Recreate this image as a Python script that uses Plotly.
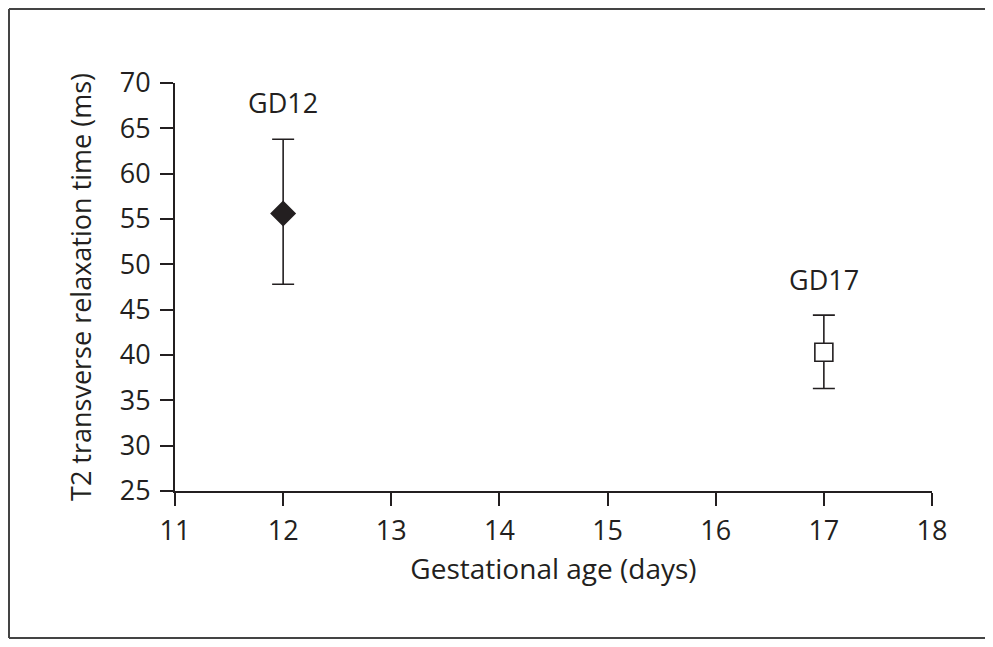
import plotly.graph_objects as go

# Data
groups = ["GD12", "GD17"]
gest_age = [12, 17]
t2_mean = [55.6, 40.3]
err_plus = [8.2, 4.1]
err_minus = [7.8, 4.0]
label_y = [67.9, 48.3]
x_ticks = [11, 12, 13, 14, 15, 16, 17, 18]
y_ticks = [25, 30, 35, 40, 45, 50, 55, 60, 65, 70]

FONT = "Open Sans"
FS = 27
INK = "#231f20"

# page body has an 8px margin; keep the figure inside the viewport (no scrollbars)
W, H = 977, 631
L, T = 167, 75
PW, PH = 757, 408

fig = go.Figure()

fig.add_trace(go.Scatter(
    x=[gest_age[0]], y=[t2_mean[0]], mode="markers",
    marker=dict(symbol="diamond", size=20, color=INK, line=dict(width=0)),
    error_y=dict(type="data", symmetric=False, array=[err_plus[0]],
                 arrayminus=[err_minus[0]], color=INK, thickness=1.6, width=11),
    showlegend=False,
))
fig.add_trace(go.Scatter(
    x=[gest_age[1]], y=[t2_mean[1]], mode="markers",
    marker=dict(symbol="square", size=18, color="white", line=dict(width=1.6, color=INK)),
    error_y=dict(type="data", symmetric=False, array=[err_plus[1]],
                 arrayminus=[err_minus[1]], color=INK, thickness=1.6, width=11),
    showlegend=False,
))

for g, x, y in zip(groups, gest_age, label_y):
    fig.add_annotation(x=x, y=y, text=g, showarrow=False,
                       font=dict(family=FONT, size=FS, color=INK))

# outer frame: left, top and bottom edges (right edge lies outside the page)
def px(xf):
    return (xf - L) / PW

def py(yf):
    return (T + PH - yf) / PH

x_l, x_r = px(1), px(W)
y_b, y_t = py(H - 1), py(1)
for (xa, ya, xb, yb) in [(x_l, y_t, x_r, y_t), (x_l, y_b, x_r, y_b), (x_l, y_t, x_l, y_b)]:
    fig.add_shape(type="line", xref="paper", yref="paper",
                  x0=xa, y0=ya, x1=xb, y1=yb,
                  line=dict(color="#444444", width=2))

axis_common = dict(showline=True, linecolor=INK, linewidth=1.8, ticks="outside",
                   ticklen=13, tickwidth=1.8, tickcolor=INK, showgrid=False,
                   zeroline=False, tickfont=dict(family=FONT, size=FS, color=INK))

fig.update_xaxes(range=[11, 18], tickvals=x_ticks, ticklabelstandoff=2,
                 title=dict(text="Gestational age (days)", standoff=12,
                            font=dict(family=FONT, size=28, color=INK)),
                 **axis_common)
fig.update_yaxes(range=[25, 70], tickvals=y_ticks, ticklabelstandoff=4,
                 title=dict(text="T2 transverse relaxation time (ms)", standoff=20,
                            font=dict(family=FONT, size=FS, color=INK)),
                 **axis_common)

fig.update_layout(
    width=W, height=H,
    margin=dict(l=L, r=W - L - PW, t=T, b=H - T - PH),
    plot_bgcolor="white", paper_bgcolor="white",
)

fig.write_html("out.html")
